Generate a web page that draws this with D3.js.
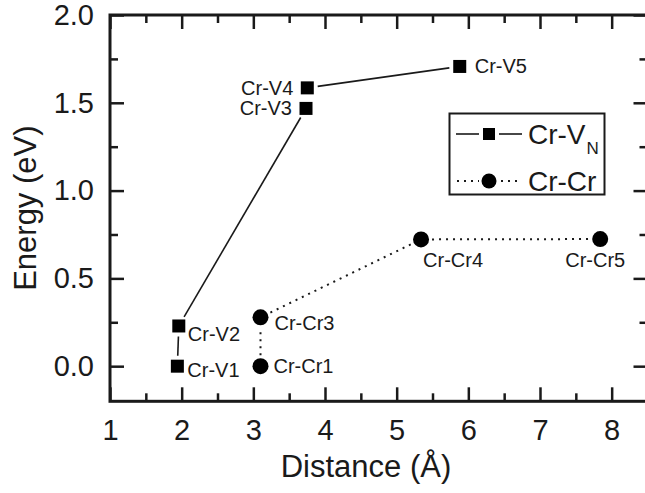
<!DOCTYPE html>
<html>
<head>
<meta charset="utf-8">
<script src="https://cdn.jsdelivr.net/npm/d3@7"></script>
<style>
  html, body { margin: 0; padding: 0; background: #fff; }
  svg { display: block; }
  text { font-family: "Liberation Sans", Arial, Helvetica, sans-serif; fill: #1a1a1a; }
</style>
</head>
<body>
<svg id="chart" width="645" height="493"></svg>
<script>
// ---- data ----
const crvDistance = [1.94, 1.96, 3.735, 3.753, 5.88];
const crvEnergy   = [0.0, 0.229, 1.468, 1.585, 1.707];
const crvLabels   = ["Cr-V1", "Cr-V2", "Cr-V3", "Cr-V4", "Cr-V5"];

const crcrDistance = [3.10, 3.10, 5.34, 7.84];
const crcrEnergy   = [0.0, 0.278, 0.722, 0.724];
const crcrLabels   = ["Cr-Cr1", "Cr-Cr3", "Cr-Cr4", "Cr-Cr5"];

const xTickValues = [1, 2, 3, 4, 5, 6, 7, 8];
const yTickValues = [0.0, 0.5, 1.0, 1.5, 2.0];
const xTitle = "Distance (Å)";
const yTitle = "Energy (eV)";
const legendNames = ["Cr-V", "Cr-Cr"];

// ---- label placement (style) ----
const crvLabelPlace  = [[10, 11, "start"], [9, 15, "start"], [-14, 7, "end"], [-14, 7, "end"], [15, 7, "start"]];
const crcrLabelPlace = [[13, 7, "start"], [14, 13, "start"], [2, 28, "start"], [-5, 28, "middle"]];

const svg = d3.select("#chart");
const ink = "#1a1a1a";

const x = d3.scaleLinear().domain([1, 8.5]).range([110, 647.5]);
const y = d3.scaleLinear().domain([-0.2, 2.0]).range([401.3, 15]);

const fmt = d3.format(".1f");

// axes (inward ticks)
const majorLen = 14, minorLen = 8;
const xMinor = d3.range(1.5, 8.5, 1);
const yMinor = [0.25, 0.75, 1.25, 1.75];

function styleAxis(g) {
  g.selectAll(".domain").remove();
  g.selectAll(".tick line").attr("stroke", ink).attr("stroke-width", 2.5);
}

// bottom
svg.append("g").attr("transform", `translate(0,${y.range()[0]})`)
  .call(d3.axisBottom(x).tickValues(xTickValues).tickSize(-majorLen).tickPadding(18).tickFormat(d3.format("d")))
  .call(styleAxis)
  .call(g => g.selectAll(".tick text").attr("font-size", 29).attr("fill", ink));
svg.append("g").attr("transform", `translate(0,${y.range()[0]})`)
  .call(d3.axisBottom(x).tickValues(xMinor).tickSize(-minorLen).tickFormat(""))
  .call(styleAxis);
// top
svg.append("g").attr("transform", `translate(0,${y.range()[1]})`)
  .call(d3.axisTop(x).tickValues(xTickValues).tickSize(-majorLen).tickFormat(""))
  .call(styleAxis);
svg.append("g").attr("transform", `translate(0,${y.range()[1]})`)
  .call(d3.axisTop(x).tickValues(xMinor).tickSize(-minorLen).tickFormat(""))
  .call(styleAxis);
// left
svg.append("g").attr("transform", `translate(${x.range()[0]},0)`)
  .call(d3.axisLeft(y).tickValues(yTickValues).tickSize(-majorLen).tickPadding(16).tickFormat(fmt))
  .call(styleAxis)
  .call(g => g.selectAll(".tick text").attr("font-size", 29).attr("fill", ink));
svg.append("g").attr("transform", `translate(${x.range()[0]},0)`)
  .call(d3.axisLeft(y).tickValues(yMinor).tickSize(-minorLen).tickFormat(""))
  .call(styleAxis);
// right
svg.append("g").attr("transform", `translate(${x.range()[1]},0)`)
  .call(d3.axisRight(y).tickValues(yTickValues).tickSize(-majorLen).tickFormat(""))
  .call(styleAxis);
svg.append("g").attr("transform", `translate(${x.range()[1]},0)`)
  .call(d3.axisRight(y).tickValues(yMinor).tickSize(-minorLen).tickFormat(""))
  .call(styleAxis);

// frame
svg.append("rect")
  .attr("x", x.range()[0]).attr("y", y.range()[1])
  .attr("width", x.range()[1] - x.range()[0]).attr("height", y.range()[0] - y.range()[1])
  .attr("fill", "none").attr("stroke", ink).attr("stroke-width", 3);

// axis titles
svg.append("text").attr("x", 366).attr("y", 477).attr("text-anchor", "middle")
  .attr("font-size", 31).text(xTitle);
svg.append("text").attr("transform", `translate(36,${y(0.9)}) rotate(-90)`).attr("text-anchor", "middle")
  .attr("font-size", 31).text(yTitle);

// connecting lines with gaps near markers
function gappedSegments(xs, ys, gap) {
  const segs = [];
  for (let i = 0; i < xs.length - 1; i++) {
    const x1 = x(xs[i]), y1 = y(ys[i]), x2 = x(xs[i + 1]), y2 = y(ys[i + 1]);
    const dx = x2 - x1, dy = y2 - y1, L = Math.hypot(dx, dy);
    if (L <= 2 * gap) continue;
    const ux = dx / L, uy = dy / L;
    segs.push([x1 + ux * gap, y1 + uy * gap, x2 - ux * gap, y2 - uy * gap]);
  }
  return segs;
}

svg.append("g").selectAll("line").data(gappedSegments(crvDistance, crvEnergy, 10.5)).join("line")
  .attr("x1", d => d[0]).attr("y1", d => d[1]).attr("x2", d => d[2]).attr("y2", d => d[3])
  .attr("stroke", ink).attr("stroke-width", 1.6);

svg.append("g").selectAll("line").data(gappedSegments(crcrDistance, crcrEnergy, 11)).join("line")
  .attr("x1", d => d[0]).attr("y1", d => d[1]).attr("x2", d => d[2]).attr("y2", d => d[3])
  .attr("stroke", ink).attr("stroke-width", 2).attr("stroke-dasharray", "2,5");

// markers
const sq = 13;
svg.append("g").selectAll("rect").data(crvDistance).join("rect")
  .attr("x", (d, i) => x(d) - sq / 2).attr("y", (d, i) => y(crvEnergy[i]) - sq / 2)
  .attr("width", sq).attr("height", sq).attr("fill", "#000");

svg.append("g").selectAll("circle").data(crcrDistance).join("circle")
  .attr("cx", d => x(d)).attr("cy", (d, i) => y(crcrEnergy[i])).attr("r", 8).attr("fill", "#000");

// point labels
svg.append("g").selectAll("text").data(crvLabels).join("text")
  .attr("x", (d, i) => x(crvDistance[i]) + crvLabelPlace[i][0])
  .attr("y", (d, i) => y(crvEnergy[i]) + crvLabelPlace[i][1])
  .attr("text-anchor", (d, i) => crvLabelPlace[i][2])
  .attr("font-size", 20).text(d => d);

svg.append("g").selectAll("text").data(crcrLabels).join("text")
  .attr("x", (d, i) => x(crcrDistance[i]) + crcrLabelPlace[i][0])
  .attr("y", (d, i) => y(crcrEnergy[i]) + crcrLabelPlace[i][1])
  .attr("text-anchor", (d, i) => crcrLabelPlace[i][2])
  .attr("font-size", 20).text(d => d);

// legend
const lg = svg.append("g");
lg.append("rect").attr("x", 449.5).attr("y", 113.5).attr("width", 155).attr("height", 81)
  .attr("fill", "#fff").attr("stroke", ink).attr("stroke-width", 2);
const row1 = 134, row2 = 181, mx = 489;
lg.append("line").attr("x1", 456).attr("x2", mx - 10).attr("y1", row1).attr("y2", row1).attr("stroke", ink).attr("stroke-width", 1.6);
lg.append("line").attr("x1", mx + 10).attr("x2", 522).attr("y1", row1).attr("y2", row1).attr("stroke", ink).attr("stroke-width", 1.6);
lg.append("rect").attr("x", mx - 6).attr("y", row1 - 6).attr("width", 12).attr("height", 12).attr("fill", "#000");
lg.append("line").attr("x1", 457).attr("x2", mx - 10).attr("y1", row2).attr("y2", row2).attr("stroke", ink).attr("stroke-width", 2).attr("stroke-dasharray", "2,5");
lg.append("line").attr("x1", mx + 12).attr("x2", 522).attr("y1", row2).attr("y2", row2).attr("stroke", ink).attr("stroke-width", 2).attr("stroke-dasharray", "2,5");
lg.append("circle").attr("cx", mx).attr("cy", row2).attr("r", 7.5).attr("fill", "#000");
const t1 = lg.append("text").attr("x", 528).attr("y", row1 + 10).attr("font-size", 28);
t1.append("tspan").text(legendNames[0]);
t1.append("tspan").attr("font-size", 17).attr("dy", 10).attr("dx", 1).text("N");
lg.append("text").attr("x", 528).attr("y", row2 + 10).attr("font-size", 28).text(legendNames[1]);
</script>
</body>
</html>
